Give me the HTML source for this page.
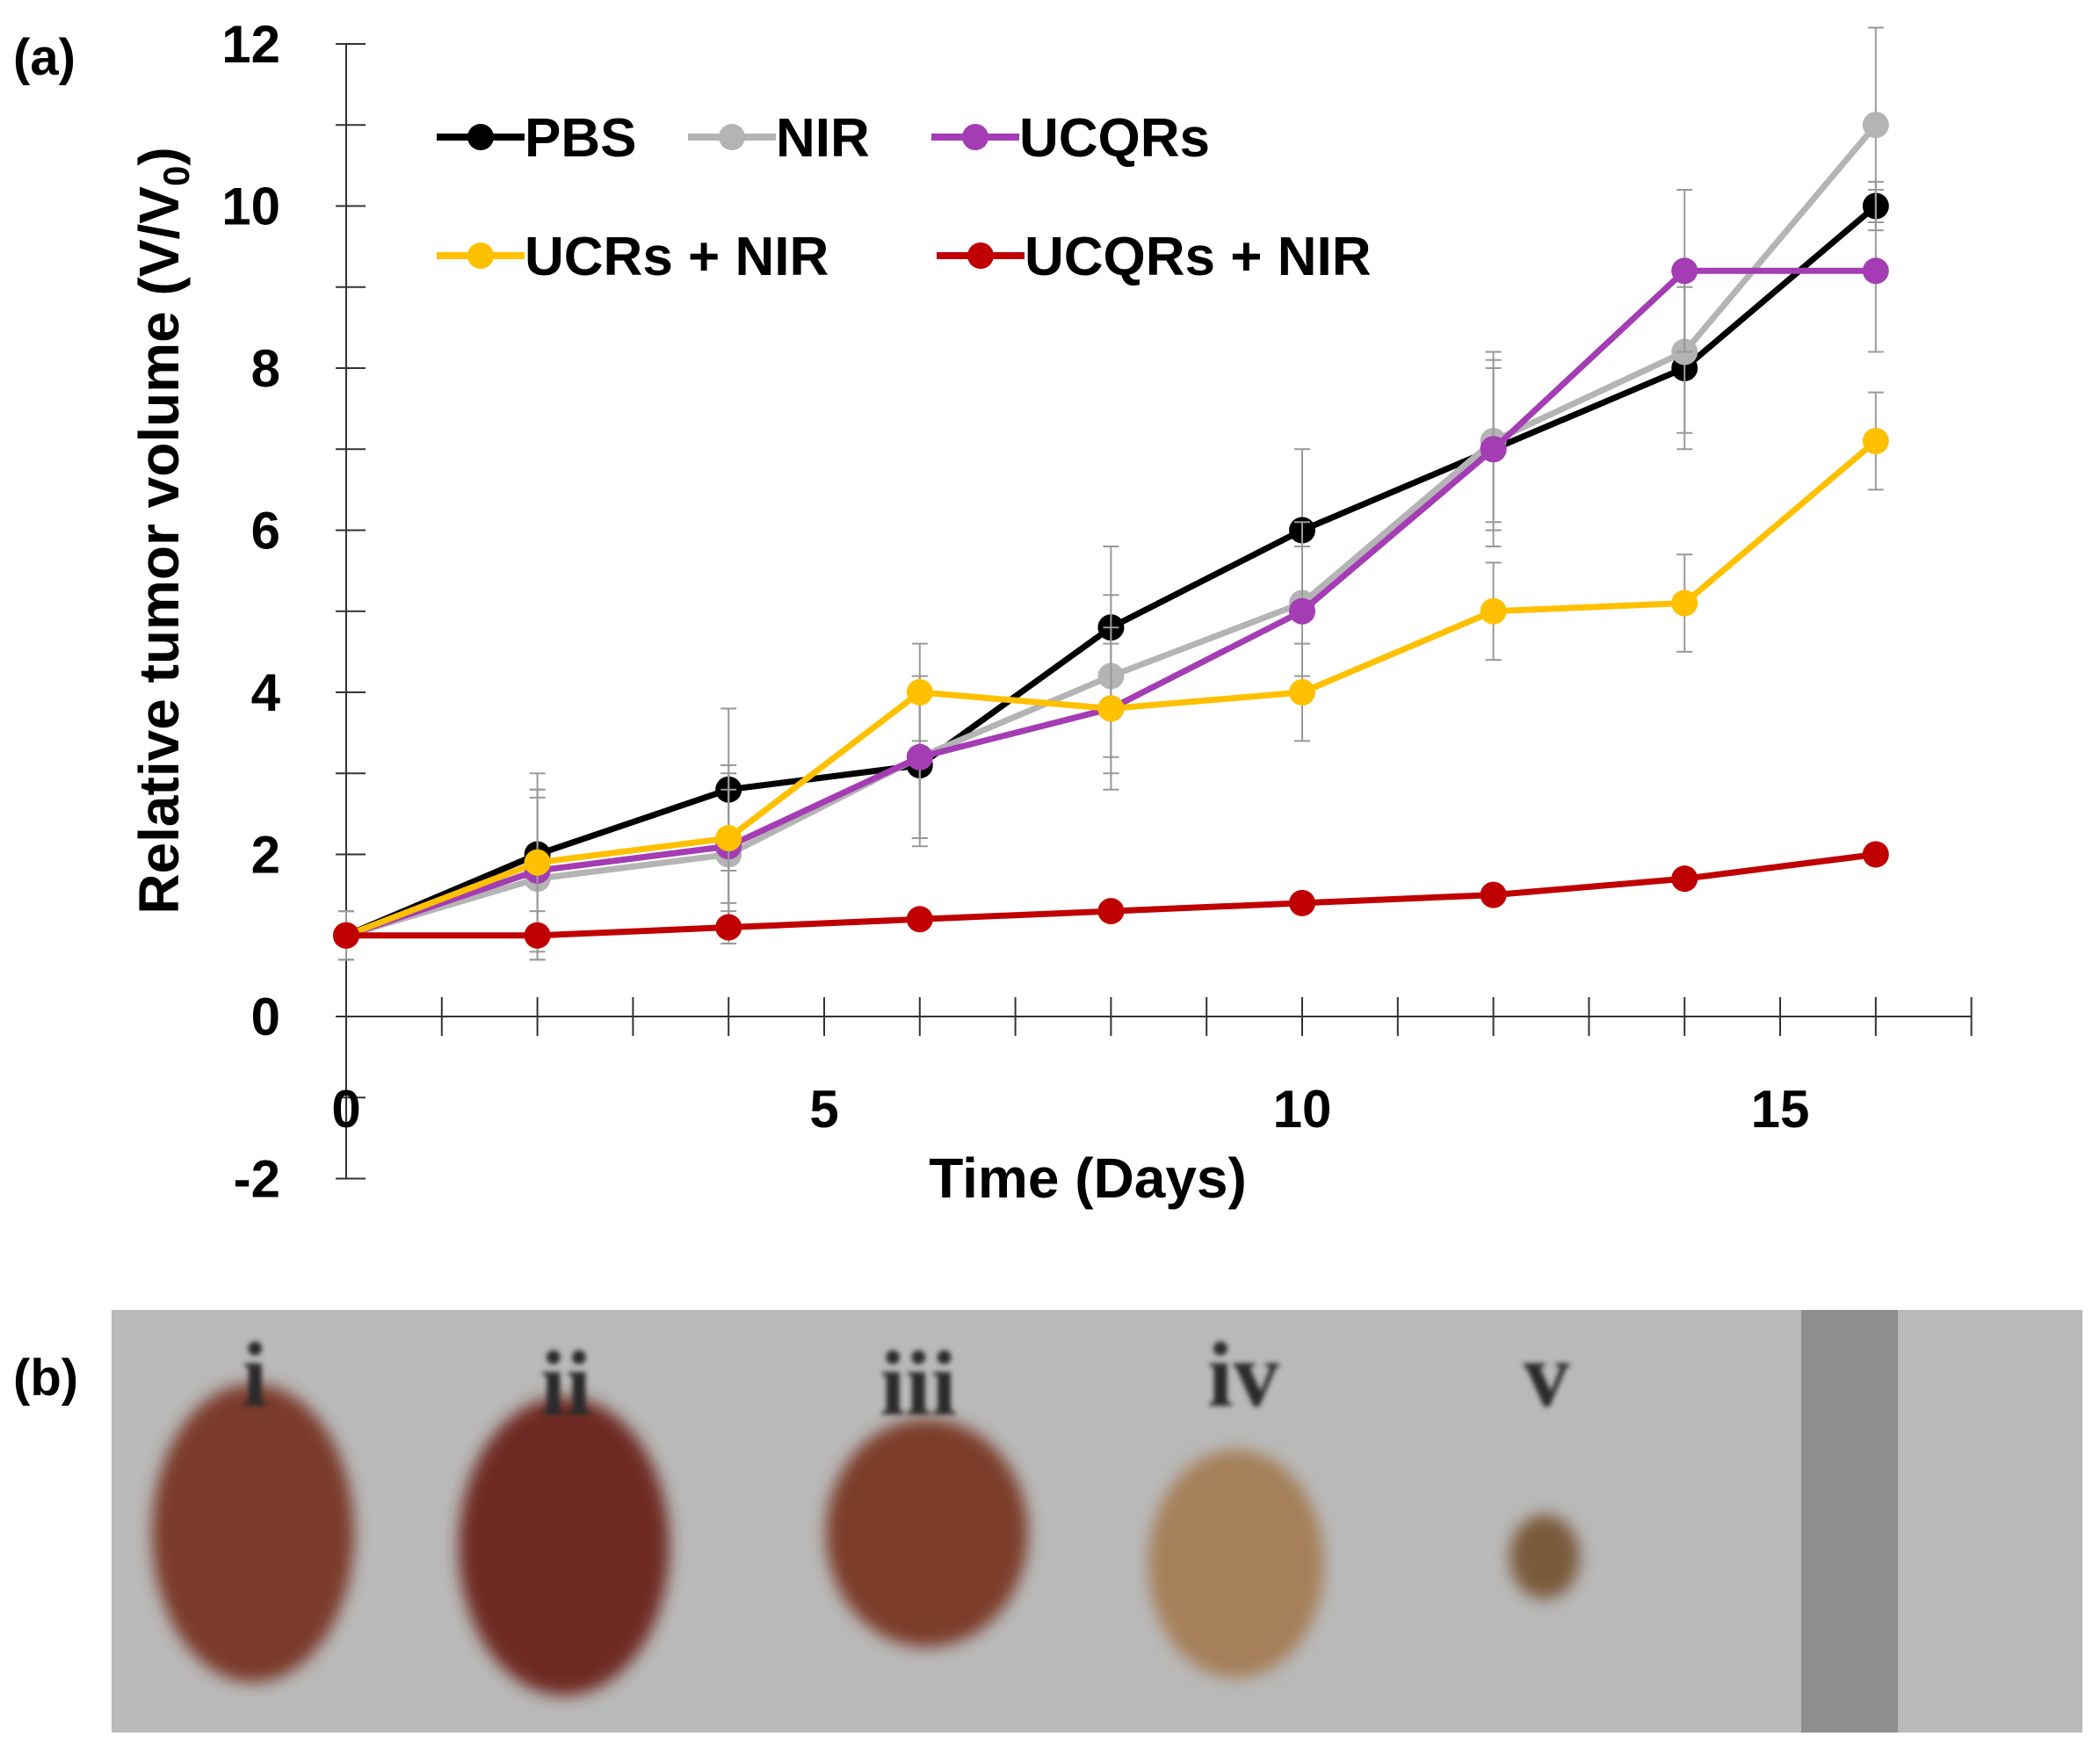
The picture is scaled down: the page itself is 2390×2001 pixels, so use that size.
<!DOCTYPE html>
<html><head><meta charset="utf-8"><style>
html,body{margin:0;padding:0;background:#fff;}
svg{display:block;font-family:"Liberation Sans",sans-serif;}
</style></head><body>
<svg id="chart" width="2390" height="2001" viewBox="0 0 2390 2001" xmlns="http://www.w3.org/2000/svg">
<defs>
<filter id="blur" x="-30%" y="-30%" width="160%" height="160%"><feGaussianBlur stdDeviation="9"/></filter>
<filter id="blur2"><feGaussianBlur stdDeviation="3"/></filter>
</defs>
<text x="15" y="85" font-size="58" font-weight="bold">(a)</text>
<text x="15" y="1588" font-size="58" font-weight="bold">(b)</text>
<g id="axes"></g>
<g id="series"></g>
<g id="legend"></g>
<g id="photo">
  <rect x="127" y="1491" width="2243" height="481" fill="#b9b9b9"/>
  <rect x="2050" y="1491" width="110" height="481" fill="#8e8e8e"/>
  <g filter="url(#blur)">
    <ellipse cx="288" cy="1745" rx="115" ry="170" fill="#7a3a2c"/>
    <ellipse cx="642" cy="1760" rx="120" ry="170" fill="#6e2c22"/>
    <ellipse cx="1055" cy="1745" rx="115" ry="130" fill="#7c3e2c"/>
    <ellipse cx="1407" cy="1780" rx="100" ry="130" fill="#a6805a"/>
    <ellipse cx="1758" cy="1772" rx="40" ry="48" fill="#7a5a3a"/>
  </g>
  <g font-family="Liberation Serif,serif" font-weight="bold" font-size="105" fill="#2a2a2a" text-anchor="middle" filter="url(#blur2)">
    <text x="290" y="1600">i</text><text x="644" y="1610">ii</text><text x="1045" y="1610">iii</text><text x="1415" y="1600">iv</text><text x="1760" y="1600">v</text>
  </g>
</g>
</svg>
<script>
const days = [0,2,4,6,8,10,12,14,16];
const pbs = [1,2,2.8,3.1,4.8,6,7,8,10];
const nir = [1,1.7,2,3.2,4.2,5.1,7.1,8.2,11];
const ucqrs = [1,1.8,2.1,3.2,3.8,5,7,9.2,9.2];
const ucrsNir = [1,1.9,2.2,4,3.8,4,5,5.1,7.1];
const ucqrsNir = [1,1,1.1,1.2,1.3,1.4,1.5,1.7,2];
const pbsErr = [0.3,1,1,1,1,1,1.2,1,0.3];
const nirErr = [0.3,1,0.8,1,1,1,1,1,1.2];
const ucqrsErr = [0.3,1,1,1,1,0.8,1,1,1];
const ucrsErr = [0.3,0.9,0.8,0.6,0.8,0.6,0.6,0.6,0.6];
const ucqrsNirErr = [0.1,0.3,0.2,0.1,0.1,0.1,0.1,0.1,0.1];
const yTicks = [-2,0,2,4,6,8,10,12];
const xTicks = [0,5,10,15];

const NS="http://www.w3.org/2000/svg";
const X = d => 394 + d*108.8;
const Y = v => 1157 - v*92.25;
function mk(tag, parent, attrs){const e=document.createElementNS(NS,tag);for(const k in attrs)e.setAttribute(k,attrs[k]);parent.appendChild(e);return e;}
const axes=document.getElementById('axes');
let ya=mk('line',axes,{x1:X(0),y1:Y(12),x2:X(0),y2:Y(-2),stroke:'#333','stroke-width':2});


for(let v=-2;v<=12;v++){mk('line',axes,{x1:X(0)-12,x2:X(0)+22,y1:Y(v),y2:Y(v),stroke:'#333','stroke-width':2});}
yTicks.forEach(v=>{const t=mk('text',axes,{x:X(0)-75,y:Y(v)+21,'font-size':60,'font-weight':'bold','text-anchor':'end'});t.textContent=v;

});
let xa=mk('line',axes,{x1:X(0),y1:Y(0),x2:X(17),y2:Y(0),stroke:'#333','stroke-width':2});


for(let d=0;d<=17;d++){mk('line',axes,{x1:X(d),x2:X(d),y1:Y(0)-22,y2:Y(0)+22,stroke:'#333','stroke-width':2});}
xTicks.forEach(d=>{const t=mk('text',axes,{x:X(d),y:1283,'font-size':60,'font-weight':'bold','text-anchor':'middle'});t.textContent=d;

});
let xt=mk('text',axes,{x:1238,y:1363,'font-size':64,'font-weight':'bold','text-anchor':'middle'});xt.textContent='Time (Days)';


let yt=mk('text',axes,{x:0,y:0,'font-size':64,'font-weight':'bold','text-anchor':'middle',transform:'translate(203,604) rotate(-90)'});
yt.innerHTML='Relative tumor volume (V/V<tspan font-size="42" dy="12">0</tspan><tspan dy="-12">)</tspan>';



const series=[
 ['pbs',pbs,pbsErr,'#000'],['nir',nir,nirErr,'#b4b4b4'],['ucqrs',ucqrs,ucqrsErr,'#a43cb4'],
 ['ucrs-nir',ucrsNir,ucrsErr,'#ffc000'],['ucqrs-nir',ucqrsNir,ucqrsNirErr,'#c00000']];
const sg=document.getElementById('series');
series.forEach(([name,vals,errs,col])=>{
 const g=mk('g',sg,{});
 
 
 vals.forEach((v,i)=>{const x=X(days[i]);
  mk('line',g,{x1:x,x2:x,y1:Y(v-errs[i]),y2:Y(v+errs[i]),stroke:'#999','stroke-width':2});
  mk('line',g,{x1:x-9,x2:x+9,y1:Y(v-errs[i]),y2:Y(v-errs[i]),stroke:'#999','stroke-width':2});
  mk('line',g,{x1:x-9,x2:x+9,y1:Y(v+errs[i]),y2:Y(v+errs[i]),stroke:'#999','stroke-width':2});});
 mk('polyline',g,{points:vals.map((v,i)=>X(days[i])+','+Y(v)).join(' '),fill:'none',stroke:col,'stroke-width':7,'stroke-linejoin':'round'});
 vals.forEach((v,i)=>{const c=mk('circle',g,{cx:X(days[i]),cy:Y(v),r:15,fill:col});
  
  });
});
const leg=document.getElementById('legend');
[['PBS','#000',497,156],['NIR','#b4b4b4',783,156],['UCQRs','#a43cb4',1060,156],['UCRs + NIR','#ffc000',497,291],['UCQRs + NIR','#c00000',1066,291]].forEach(([lab,col,x,y])=>{
 const g=mk('g',leg,{});
 
 
 mk('line',g,{x1:x,x2:x+100,y1:y,y2:y,stroke:col,'stroke-width':8});
 mk('circle',g,{cx:x+50,cy:y,r:15,fill:col});
 const t=mk('text',g,{x:x+100,y:y+22,'font-size':62,'font-weight':'bold'});t.textContent=lab;
});
</script>
</body></html>
